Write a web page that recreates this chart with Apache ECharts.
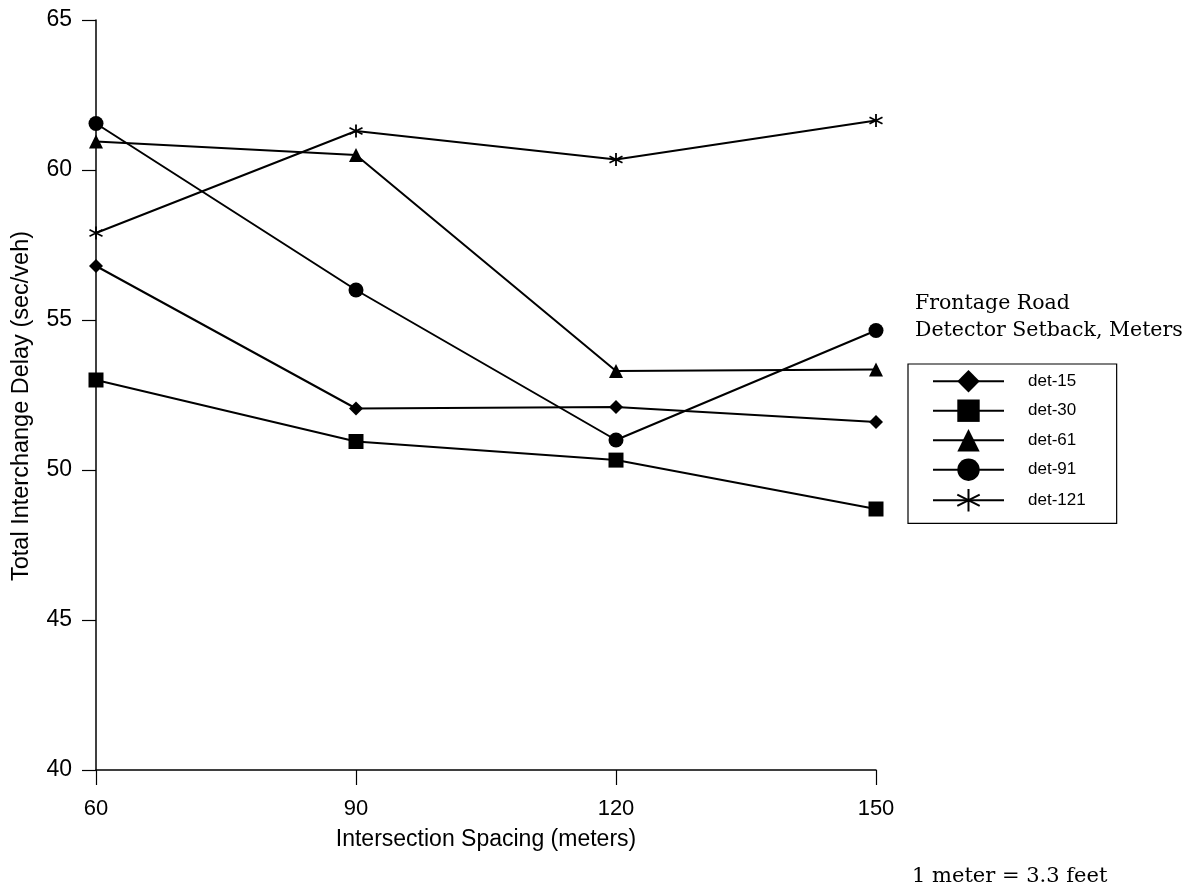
<!DOCTYPE html>
<html>
<head>
<meta charset="utf-8">
<script src="https://cdn.jsdelivr.net/npm/echarts@6/dist/echarts.min.js"></script>
<style>
  html, body { margin: 0; padding: 0; background: #fff; }
  #chart { width: 1197px; height: 890px; }
</style>
</head>
<body>
<div id="chart"></div>
<script>
// intersection spacing (meters)
const spacing = [60, 90, 120, 150];
const det15 = [56.8, 52.05, 52.1, 51.6];
const det30 = [53.0, 50.95, 50.33, 48.7];
const det61 = [60.95, 60.5, 53.3, 53.35];
const det91 = [61.55, 56.0, 51.0, 54.65];
const det121 = [57.9, 61.3, 60.35, 61.65];

const seriesNames = ['det-15', 'det-30', 'det-61', 'det-91', 'det-121'];
const asterisk = 'path://M0,-10L0,10M-8.66,-5L8.66,5M-8.66,5L8.66,-5';

const pairs = arr => spacing.map((x, i) => [x, arr[i]]);

const myChart = echarts.init(document.getElementById('chart'));

const mkSeries = (name, data, symbol, size, border) => ({
    name: name,
    type: 'line',
    data: pairs(data),
    symbol: symbol,
    symbolSize: size,
    lineStyle: { color: '#000', width: 2 },
    itemStyle: border
        ? { color: '#000', borderColor: '#000', borderWidth: 1.8 }
        : { color: '#000', borderWidth: 0 },
    emphasis: { disabled: true },
});

const option = {
    animation: false,
    backgroundColor: '#fff',
    grid: { left: 96, right: 321, top: 20, bottom: 120 },
    xAxis: {
        type: 'value',
        min: 60,
        max: 150,
        interval: 30,
        name: 'Intersection Spacing (meters)',
        nameLocation: 'middle',
        nameGap: 58,
        nameTextStyle: { fontFamily: 'Liberation Sans', fontSize: 23, color: '#000' },
        axisLine: { show: true, lineStyle: { color: '#000', width: 1.5 } },
        axisTick: { show: true, length: 15, lineStyle: { color: '#000', width: 1.2 } },
        axisLabel: { margin: 28, fontFamily: 'Liberation Sans', fontSize: 22, color: '#000' },
        splitLine: { show: false },
    },
    yAxis: {
        type: 'value',
        min: 40,
        max: 65,
        interval: 5,
        name: 'Total Interchange Delay (sec/veh)',
        nameLocation: 'middle',
        nameGap: 62,
        nameTextStyle: { fontFamily: 'Liberation Sans', fontSize: 23.5, color: '#000', padding: [0, 22, 0, 0] },
        axisLine: { show: true, lineStyle: { color: '#000', width: 1.5 } },
        axisTick: { show: true, length: 14, lineStyle: { color: '#000', width: 1.2 } },
        axisLabel: { margin: 24, fontFamily: 'Liberation Sans', fontSize: 23, color: '#000' },
        splitLine: { show: false },
    },
    legend: {
        orient: 'vertical',
        left: 908,
        top: 364,
        data: seriesNames,
        itemWidth: 71,
        itemHeight: 28,
        itemGap: 7.1,
        padding: [6, 31, 11, 24],
        borderColor: '#000',
        borderWidth: 1.2,
        borderRadius: 0,
        textStyle: { fontFamily: 'Liberation Sans', fontSize: 17, color: '#000', padding: [0, 0, 0, 19] },
        selectedMode: false,
    },
    graphic: [
        { type: 'text', left: 915, top: 293, style: { text: 'Frontage Road', font: '20.5px "DejaVu Serif"', fill: '#000' } },
        { type: 'text', left: 915, top: 320, style: { text: 'Detector Setback, Meters', font: '20.5px "DejaVu Serif"', fill: '#000' } },
        { type: 'text', left: 912, top: 866, style: { text: '1 meter = 3.3 feet', font: '21px "DejaVu Serif"', fill: '#000' } },
    ],
    series: [
        mkSeries('det-15', det15, 'diamond', 14, false),
        mkSeries('det-30', det30, 'rect', 15, false),
        mkSeries('det-61', det61, 'triangle', 14, false),
        mkSeries('det-91', det91, 'circle', 15, false),
        mkSeries('det-121', det121, asterisk, 13, true),
    ],
};
myChart.setOption(option);
</script>
</body>
</html>
